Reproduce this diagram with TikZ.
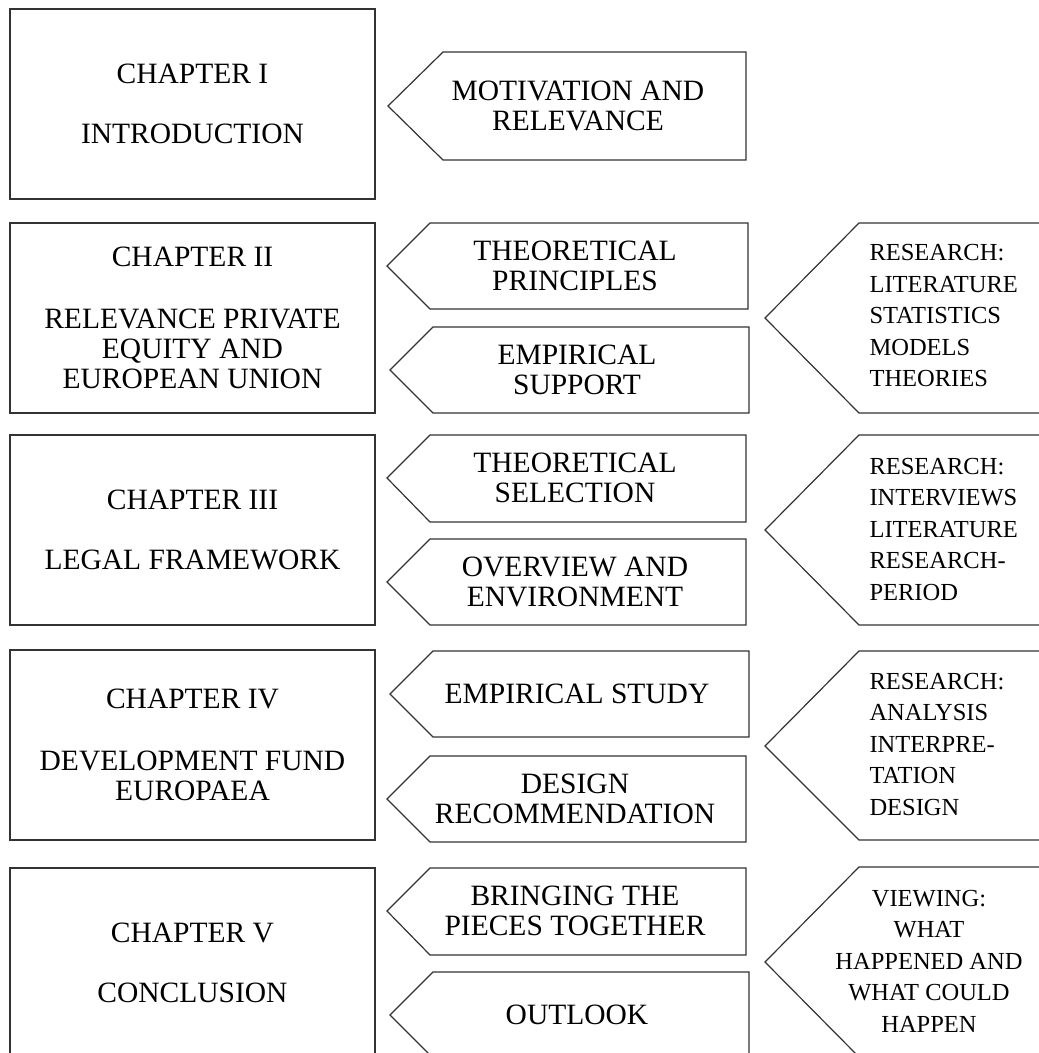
\documentclass[tikz,border=0pt]{standalone}
\usepackage{fontspec}
\setmainfont{Liberation Serif}
\usetikzlibrary{calc}

\tikzstyle{chapter} = [rectangle, draw=black!80, line width=1.2pt, minimum width=365pt, minimum height=190pt, align=center, font=\fontsize{29.5}{30}\selectfont]
\tikzstyle{tag} = [align=center, font=\fontsize{29.5}{30}\selectfont]
\tikzstyle{research} = [align=left, anchor=west, font=\fontsize{24.5}{31.5}\selectfont]
\tikzstyle{outline} = [draw=black!80, line width=1.2pt, line join=miter]

\begin{document}
\begin{tikzpicture}[x=1pt, y=-1pt]

\useasboundingbox (0,0) rectangle (1039,1053);
\clip (0,0) rectangle (1039,1053);

% Left column: Chapters
\node (ch1) [chapter] at (192.5,104) {CHAPTER I\\[30pt]INTRODUCTION};
\node (ch2) [chapter] at (192.5,318) {CHAPTER II\\[32pt]RELEVANCE PRIVATE\\EQUITY AND\\EUROPEAN UNION};
\node (ch3) [chapter] at (192.5,530) {CHAPTER III\\[30pt]LEGAL FRAMEWORK};
\node (ch4) [chapter] at (192.5,745) {CHAPTER IV\\[32pt]DEVELOPMENT FUND\\EUROPAEA};
\node (ch5) [chapter] at (192.5,963) {CHAPTER V\\[30pt]CONCLUSION};

% Middle column: topics (pointing left)
\draw[outline] (388,106) -- (443,52) -- (746,52) -- (746,160) -- (443,160) -- cycle;
\draw[outline] (387,266) -- (430,223) -- (748,223) -- (748,309) -- (430,309) -- cycle;
\draw[outline] (390,370) -- (433,327) -- (749,327) -- (749,413) -- (433,413) -- cycle;
\draw[outline] (387,478) -- (430,435) -- (746,435) -- (746,522) -- (430,522) -- cycle;
\draw[outline] (387,582) -- (430,539) -- (746,539) -- (746,625) -- (430,625) -- cycle;
\draw[outline] (390,694) -- (433,651) -- (749,651) -- (749,737) -- (433,737) -- cycle;
\draw[outline] (387,799) -- (430,756) -- (746,756) -- (746,842) -- (430,842) -- cycle;
\draw[outline] (387,911) -- (430,868) -- (746,868) -- (746,955) -- (430,955) -- cycle;
\draw[outline] (390,1015) -- (433,972) -- (749,972) -- (749,1058) -- (433,1058) -- cycle;

\node (mot) [tag] at (578,106) {MOTIVATION AND\\RELEVANCE};
\node (tp)  [tag] at (575,266) {THEORETICAL\\PRINCIPLES};
\node (es)  [tag] at (577,370) {EMPIRICAL\\SUPPORT};
\node (ts)  [tag] at (575,478) {THEORETICAL\\SELECTION};
\node (oe)  [tag] at (575,582) {OVERVIEW AND\\ENVIRONMENT};
\node (est) [tag] at (577,694) {EMPIRICAL STUDY};
\node (dr)  [tag] at (575,799) {DESIGN\\RECOMMENDATION};
\node (bp)  [tag] at (575,911) {BRINGING THE\\PIECES TOGETHER};
\node (out) [tag] at (577,1015) {OUTLOOK};

% Right column: methods (pointing left, cut at the page edge)
\draw[outline] (765,318) -- (859,223) -- (1060,223) -- (1060,413) -- (859,413) -- cycle;
\draw[outline] (765,530) -- (859,435) -- (1060,435) -- (1060,625) -- (859,625) -- cycle;
\draw[outline] (765,746) -- (859,651) -- (1060,651) -- (1060,840) -- (859,840) -- cycle;
\draw[outline] (765,962) -- (859,867) -- (1060,867) -- (1060,1057) -- (859,1057) -- cycle;

\node (r1) [research] at (866,316) {RESEARCH:\\LITERATURE\\STATISTICS\\MODELS\\THEORIES};
\node (r2) [research] at (866,529) {RESEARCH:\\INTERVIEWS\\LITERATURE\\RESEARCH-\\PERIOD};
\node (r3) [research] at (866,744) {RESEARCH:\\ANALYSIS\\INTERPRE-\\TATION\\DESIGN};
\node (r4) [research, align=center, anchor=center] at (929,961) {VIEWING:\\WHAT\\HAPPENED AND\\WHAT COULD\\HAPPEN};

\end{tikzpicture}
\end{document}
